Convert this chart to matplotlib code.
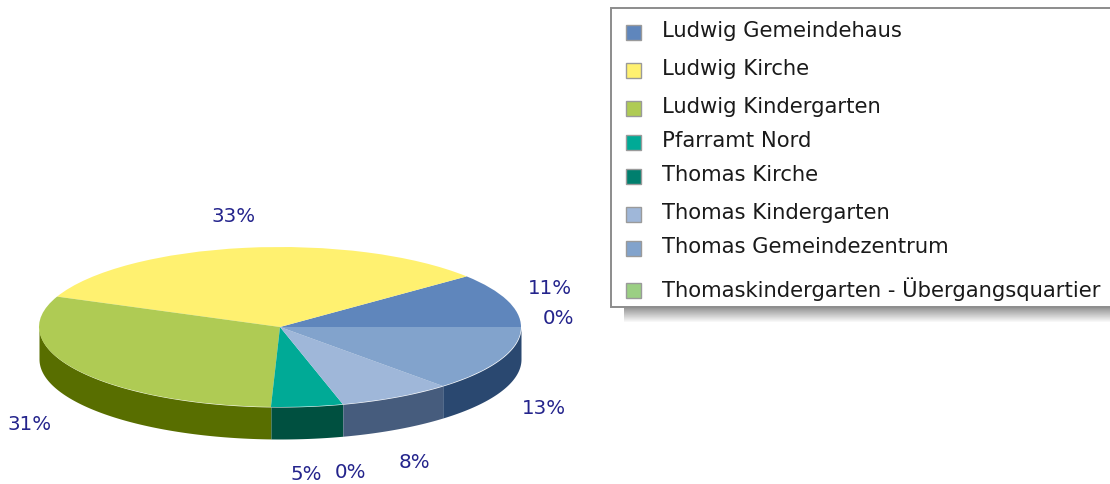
import numpy as np
import matplotlib
matplotlib.use('Agg')
import matplotlib.pyplot as plt
from matplotlib.patches import Rectangle

names = ['Ludwig Gemeindehaus', 'Ludwig Kirche', 'Ludwig Kindergarten', 'Pfarramt Nord',
         'Thomas Kirche', 'Thomas Kindergarten', 'Thomas Gemeindezentrum',
         'Thomaskindergarten - Übergangsquartier']
percent = [10.9, 32.9, 30.6, 4.8, 0.0, 7.6, 13.2, 0.0]
top_colors = ['#5F86BC', '#FFF170', '#AFCB54', '#00AA96', '#007F6E', '#9FB7D9', '#82A3CC', '#9BCF83']
side_colors = ['#2A4870', '#8A8030', '#586E00', '#005040', '#004035', '#465C7D', '#2A4870', '#4E7040']

W, H = 1110, 484
CX, CY, RX, RY, DEPTH = 280, 327, 241, 80, 32

fig = plt.figure(figsize=(W / 100, H / 100), dpi=100)

# whole figure as a pixel canvas, for the labels and the legend box
ax = fig.add_axes([0, 0, 1, 1])
ax.set_xlim(0, W)
ax.set_ylim(H, 0)
ax.axis('off')

# pie axes, one y unit is RY pixels so the circle comes out flattened
pie_ax = fig.add_axes([(CX - RX) / W, (H - CY - RY - DEPTH) / H, 2 * RX / W, (2 * RY + DEPTH) / H])
pie_ax.axis('off')
d = DEPTH / RY

# side wall first, only the front half of the pie shows it
edges = np.cumsum([0] + percent) / sum(percent) * 360
for i in range(len(percent)):
    a0 = max(edges[i], 180)
    a1 = edges[i + 1]
    if a1 <= a0:
        continue
    t = np.radians(np.linspace(a0, a1, 80))
    pie_ax.fill_between(np.cos(t), np.sin(t) - d, np.sin(t), color=side_colors[i], lw=0)

pie_ax.pie(percent, colors=top_colors, startangle=0, counterclock=True, radius=1,
           wedgeprops={'linewidth': 0})
pie_ax.set_aspect('auto')
pie_ax.set_xlim(-1, 1)
pie_ax.set_ylim(-1 - d, 1)

# percent labels
label_pos = [(550, 288), (234, 216), (30, 424), (306, 474), (350, 472), (414, 462), (544, 408), (559, 318)]
for val, (x, y) in zip(percent, label_pos):
    ax.text(x, y, '%.0f%%' % val, color='#24248C', fontsize=14.3, ha='center', va='center')

# legend shadow
for k in range(14):
    ax.add_patch(Rectangle((624, 308 + k), W - 624, 1, color='#707070', alpha=0.7 * (1 - k / 14), lw=0, zorder=1))

# legend box
ax.add_patch(Rectangle((610.5, 8), W, 299, fc='white', ec='#8C8C8C', lw=1.4, zorder=2))
text_y = [31, 69, 107, 141, 175, 213, 247, 289]
for name, col, y in zip(names, top_colors, text_y):
    ax.add_patch(Rectangle((626, y - 6), 15, 15, fc=col, ec='#9A9A9A', lw=1, zorder=3))
    ax.text(662, y, name, color='#1A1A1A', fontsize=15.2, ha='left', va='center', zorder=3,
            family='DejaVu Sans')

fig.savefig('out.png', dpi=100)
